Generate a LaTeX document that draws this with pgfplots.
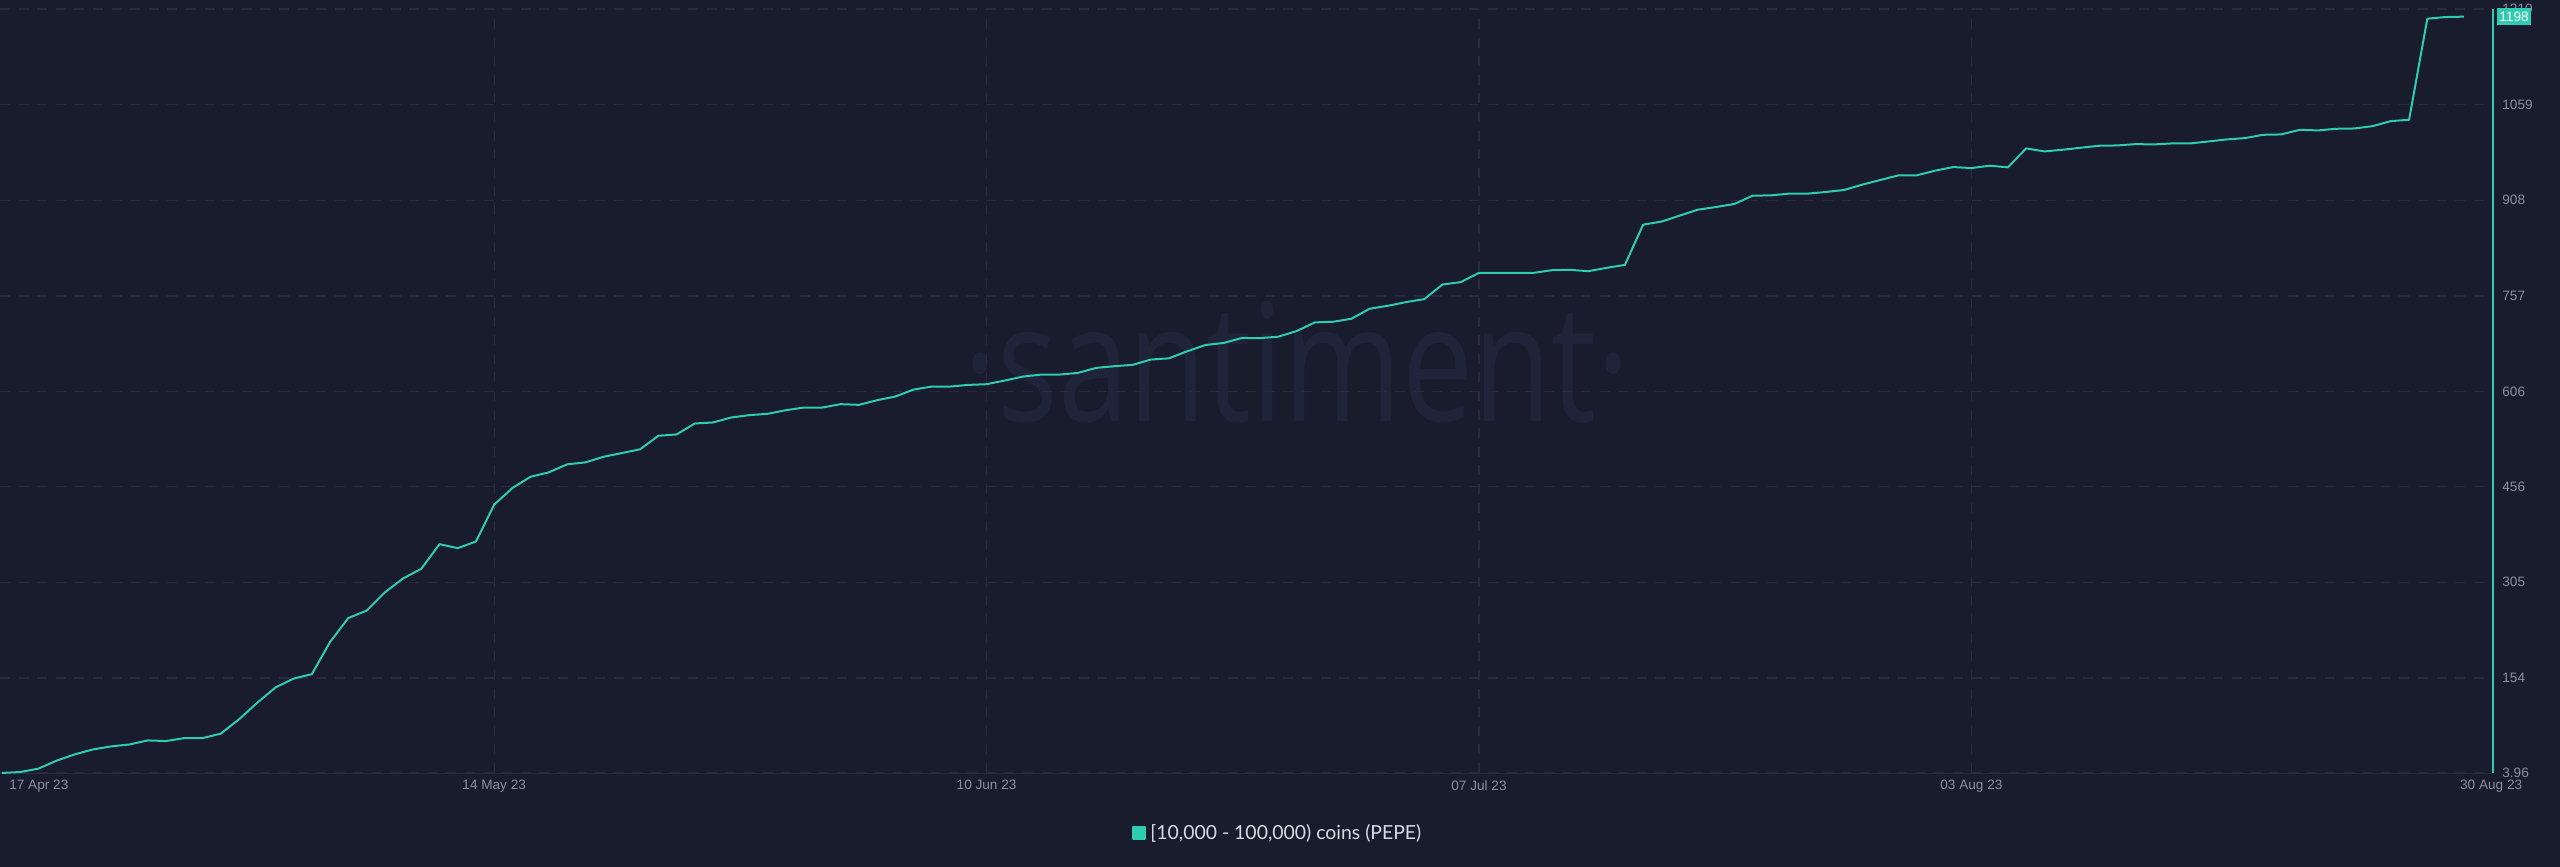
\documentclass[border=0pt]{standalone}
\usepackage{pgfplots}
\pgfplotsset{compat=1.18}
\usepackage{fontspec}
\setmainfont{Liberation Sans}
\newfontfamily\legfont{Lato}
\newfontfamily\wmfont{Open Sans}

\definecolor{bg}{HTML}{191C2C}
\definecolor{wm}{HTML}{20243A}
\definecolor{gridc}{HTML}{272B3D}
\definecolor{tickc}{HTML}{8A8EA2}
\definecolor{legc}{HTML}{D8DBE3}
\definecolor{lc}{HTML}{2ECCB0}

% [10,000 - 100,000) coins held, one point per day from 17 Apr 23 (day 0)
\pgfplotstableread{
day value
0 4
1 5.5
2 10.8
3 23.4
4 33.4
5 41.2
6 46
7 49
8 55.4
9 54.4
10 59
11 59
12 66
13 88.5
14 114.7
15 138.9
16 153
17 160
18 210.8
19 248.6
20 260.2
21 289
22 311
23 326.3
24 365.2
25 358.9
26 369.4
27 427.6
28 453.9
29 471.7
30 478.6
31 491.2
32 494.3
33 503.2
34 509
35 515
36 536.3
37 538.4
38 555.7
39 557.3
40 565.2
41 568.9
42 571
43 576.7
44 580.9
45 580.9
46 586.2
47 585.1
48 592.5
49 598.3
50 609.3
51 614
52 614
53 616.6
54 617.7
55 623.5
56 629.8
57 632.9
58 632.9
59 635.5
60 643.4
61 646.1
62 648.2
63 656.6
64 658.6
65 669.7
66 679.6
67 682.8
68 690.7
69 690.5
70 692.7
71 701.6
72 715.3
73 716.3
74 721
75 736.8
76 741.5
77 747.3
78 752
79 775.1
80 778.8
81 793.5
82 793.5
83 793.5
84 793.5
85 797.7
86 798.2
87 796.1
88 801.4
89 806.1
90 869.6
91 874.3
92 883.8
93 893.2
94 897.4
95 902.2
96 915.3
97 915.8
98 918.5
99 918.5
100 921.1
101 924.2
102 932.6
103 940
104 947.4
105 947.4
106 954.7
107 960.5
108 958.9
109 962.6
110 960
111 989.9
112 985.2
113 987.8
114 991
115 994.1
116 994.6
117 996.7
118 996.2
119 997.8
120 997.8
121 1000.9
122 1004.1
123 1006.2
124 1011.4
125 1012
126 1019.3
127 1018.3
128 1020.9
129 1021.4
130 1025.1
131 1033
132 1035.1
133 1194.7
134 1197.3
135 1197.9
}\pepe

\begin{document}
\begin{tikzpicture}
\useasboundingbox (0,-47pt) rectangle (1280pt,386.5pt);
\fill[bg] (0,-47pt) rectangle (1280pt,386.5pt);
\node[anchor=base, text=wm, inner sep=0pt] at (648.5pt,175.5pt)
  {\resizebox{333pt}{60pt}{\wmfont ·santiment·}};
\begin{axis}[
    at={(0,0)}, anchor=south west,
    scale only axis,
    width=1246.5pt, height=382pt,
    xmin=-0.1, xmax=136.6,
    ymin=3.96, ymax=1210,
    axis x line*=bottom,
    axis y line*=right,
    x axis line style={draw=gridc, -},
    y axis line style={draw=lc, line width=0.8pt, -},
    major tick length=0pt,
    xtick={27,54,81,108},
    xticklabels={14 May 23, 10 Jun 23, 07 Jul 23, 03 Aug 23},
    extra x ticks={2.03,136.5},
    extra x tick labels={17 Apr 23, 30 Aug 23},
    extra x tick style={grid=none},
    ytick={3.96,154,305,456,606,757,908,1059,1210},
    yticklabels={3.96,154,305,456,606,757,908,1059,1210},
    xmajorgrids, ymajorgrids,
    grid style={draw=gridc, line width=0.65pt, dash pattern=on 5pt off 4.3pt},
    tick label style={text=tickc, font=\fontsize{6.8}{8}\selectfont},
    /pgf/number format/assume math mode=true,
    xticklabel style={anchor=north, inner sep=0pt, yshift=-3.5pt},
    yticklabel style={anchor=west, inner sep=0pt, xshift=4.5pt},
    legend style={at={(0.513,-0.0785)}, anchor=center, draw=none, fill=none,
        text=legc, font=\legfont\fontsize{9.7}{11}\selectfont, inner sep=0pt},
    legend image code/.code={\fill[lc] (0pt,-3pt) rectangle (6pt,3pt);},
    clip=false,
]
\addplot[color=lc, line width=1pt, line join=round] table[x=day, y=value] {\pepe};
\addlegendentry{[10,000 - 100,000) coins (PEPE)}
\coordinate (cur) at (axis cs:136.6,1198);
\end{axis}
\node[anchor=west, xshift=2pt, fill=lc, text=white, inner xsep=1pt, inner ysep=1.8pt,
      font=\fontsize{6.8}{8}\selectfont] at (cur) {1198};
\end{tikzpicture}
\end{document}
